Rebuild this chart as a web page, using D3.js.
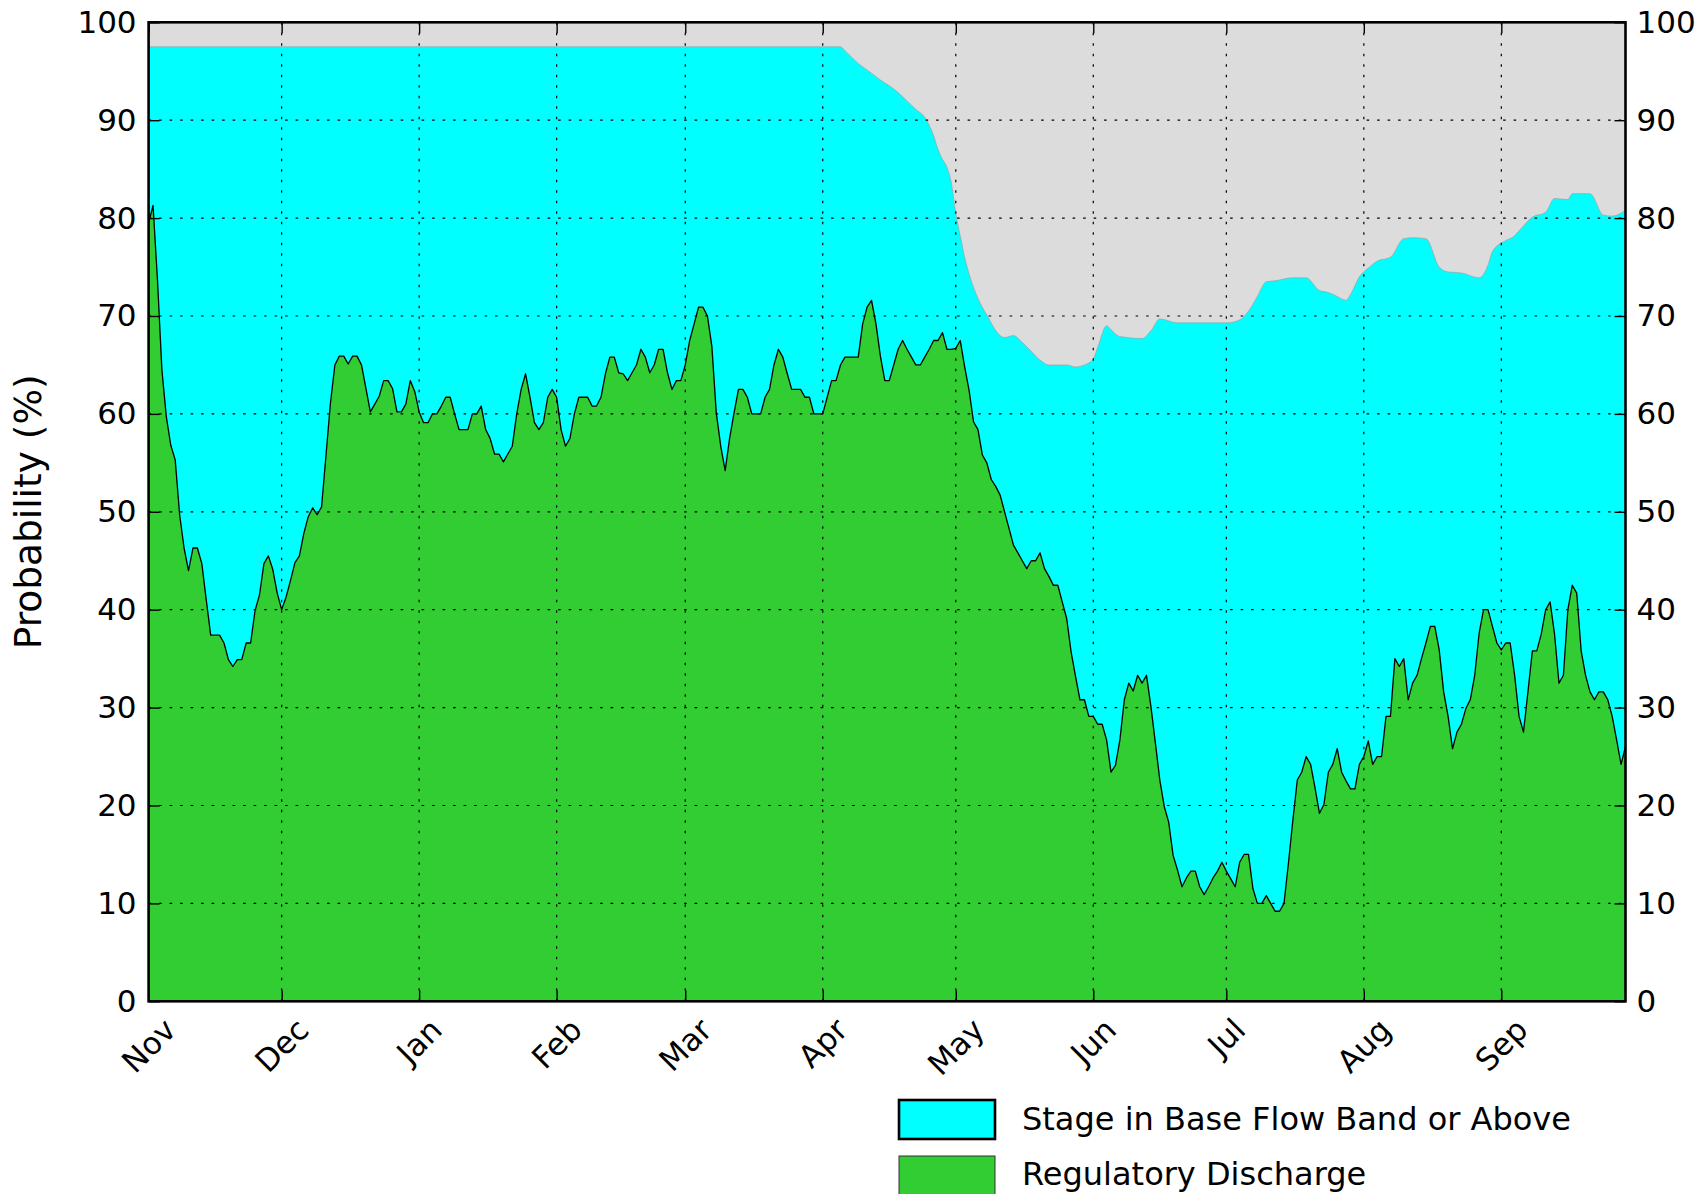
<!DOCTYPE html>
<html>
<head>
<meta charset="utf-8" />
<style>
  body { margin: 0; background: #ffffff; }
  svg { display: block; font-family: "DejaVu Sans", sans-serif; }
  .grid line { stroke: #000; stroke-width: 1.2; stroke-dasharray: 2.6,7.9; }
  .axis path { display: none; }
  .axis line { stroke: #000; stroke-width: 1.4; }
  .axis text { font-size: 31px; fill: #000; font-family: "DejaVu Sans", sans-serif; }
  .legend text { font-size: 32px; fill: #000; }
</style>
</head>
<body>
<div id="chart"></div>
<script src="https://d3js.org/d3.v7.min.js"></script>
<script>
// daily values, first day 2015-11-01
var dischargeStart = "2015-11-01";
var dischargeValues = [
  79.5, 81.3, 73.7, 64.5, 59.7, 56.8, 55.3, 49.7, 46.3, 44.0,
  46.3, 46.3, 44.7, 41.0, 37.4, 37.4, 37.4, 36.6, 34.9, 34.2,
  34.9, 34.9, 36.6, 36.6, 39.9, 41.5, 44.7, 45.5, 44.1, 41.7,
  40.0, 41.3, 43.0, 44.8, 45.5, 47.8, 49.5, 50.4, 49.7, 50.5,
  55.8, 61.1, 65.0, 65.9, 65.9, 65.1, 65.9, 65.9, 65.0, 62.6,
  60.2, 61.0, 61.8, 63.4, 63.4, 62.6, 60.2, 60.2, 61.0, 63.4,
  62.3, 60.2, 59.1, 59.1, 60.0, 60.0, 60.8, 61.7, 61.7, 60.0,
  58.4, 58.4, 58.4, 60.0, 60.0, 60.8, 58.4, 57.5, 55.9, 55.9,
  55.1, 55.9, 56.7, 60.0, 62.5, 64.1, 61.7, 59.1, 58.4, 59.1,
  61.7, 62.5, 61.7, 58.4, 56.7, 57.5, 60.0, 61.7, 61.7, 61.7,
  60.8, 60.8, 61.7, 64.1, 65.8, 65.8, 64.2, 64.1, 63.4, 64.2,
  65.0, 66.6, 65.8, 64.2, 65.0, 66.6, 66.6, 64.2, 62.5, 63.4,
  63.4, 65.0, 67.5, 69.2, 70.9, 70.9, 70.0, 66.9, 60.1, 56.7,
  54.2, 57.5, 60.1, 62.5, 62.5, 61.7, 60.0, 60.0, 60.0, 61.7,
  62.5, 65.0, 66.6, 65.8, 64.1, 62.5, 62.5, 62.5, 61.7, 61.7,
  60.0, 60.0, 60.0, 61.7, 63.4, 63.4, 65.0, 65.8, 65.8, 65.8,
  65.8, 69.2, 70.9, 71.6, 69.2, 65.9, 63.4, 63.4, 65.0, 66.6,
  67.5, 66.6, 65.8, 65.0, 65.0, 65.8, 66.6, 67.5, 67.5, 68.3,
  66.6, 66.6, 66.7, 67.5, 64.8, 62.4, 59.2, 58.4, 55.8, 55.0,
  53.3, 52.6, 51.7, 50.0, 48.3, 46.6, 45.8, 45.0, 44.2, 45.0,
  45.0, 45.8, 44.2, 43.4, 42.5, 42.5, 40.8, 39.1, 35.7, 33.2,
  30.8, 30.8, 29.1, 29.1, 28.3, 28.3, 26.7, 23.4, 24.1, 26.7,
  30.8, 32.5, 31.7, 33.3, 32.5, 33.3, 30.1, 26.4, 22.6, 19.9,
  18.3, 14.9, 13.4, 11.7, 12.6, 13.3, 13.3, 11.7, 10.9, 11.7,
  12.6, 13.3, 14.2, 13.3, 12.5, 11.7, 14.2, 15.0, 15.0, 11.5,
  10.0, 10.0, 10.8, 10.0, 9.2, 9.2, 10.0, 14.1, 18.5, 22.6,
  23.4, 25.0, 24.2, 21.8, 19.2, 20.1, 23.4, 24.2, 25.8, 23.4,
  22.5, 21.7, 21.7, 24.2, 25.0, 26.6, 24.2, 25.0, 25.0, 29.1,
  29.1, 35.0, 34.2, 35.0, 30.8, 32.5, 33.3, 35.0, 36.6, 38.3,
  38.3, 35.9, 31.6, 29.1, 25.8, 27.5, 28.3, 29.9, 30.8, 33.3,
  37.6, 40.0, 40.0, 38.3, 36.6, 35.9, 36.6, 36.6, 33.3, 29.1,
  27.5, 31.6, 35.8, 35.8, 37.5, 40.0, 40.8, 37.5, 32.5, 33.3,
  40.0, 42.5, 41.7, 35.8, 33.3, 31.6, 30.8, 31.6, 31.6, 30.8,
  29.1, 26.7, 24.2, 26.0
];

var stageDates = [
  "2015-11-01", "2016-04-05", "2016-04-06", "2016-04-09", "2016-04-12",
  "2016-04-14", "2016-04-17", "2016-04-19", "2016-04-22", "2016-04-24",
  "2016-04-26", "2016-04-27", "2016-04-28", "2016-04-29", "2016-04-30",
  "2016-05-01", "2016-05-02", "2016-05-03", "2016-05-04", "2016-05-06",
  "2016-05-08", "2016-05-11", "2016-05-12", "2016-05-14", "2016-05-16",
  "2016-05-18", "2016-05-20", "2016-05-22", "2016-05-26", "2016-05-28",
  "2016-05-30", "2016-06-01", "2016-06-02", "2016-06-04", "2016-06-05",
  "2016-06-07", "2016-06-12", "2016-06-14", "2016-06-16", "2016-06-20",
  "2016-07-01", "2016-07-04", "2016-07-06", "2016-07-08", "2016-07-10",
  "2016-07-12", "2016-07-16", "2016-07-19", "2016-07-22", "2016-07-24",
  "2016-07-26", "2016-07-28", "2016-07-29", "2016-07-31", "2016-08-02",
  "2016-08-04", "2016-08-07", "2016-08-10", "2016-08-12", "2016-08-15",
  "2016-08-18", "2016-08-20", "2016-08-23", "2016-08-27", "2016-08-29",
  "2016-08-30", "2016-09-02", "2016-09-04", "2016-09-05", "2016-09-08",
  "2016-09-11", "2016-09-13", "2016-09-16", "2016-09-17", "2016-09-21",
  "2016-09-24", "2016-09-26", "2016-09-29"
];
var stageValues = [
  97.5, 97.5, 97.1, 95.8, 94.8,
  94.1, 93.2, 92.4, 91.1, 90.3,
  88.4, 87.0, 86.0, 85.2, 83.6,
  80.5, 78.2, 76.0, 74.3, 71.8,
  70.1, 68.0, 67.8, 68.0, 67.3,
  66.4, 65.5, 65.0, 65.0, 64.8,
  65.0, 65.6, 66.8, 69.0, 68.6,
  67.9, 67.7, 68.5, 69.7, 69.3,
  69.3, 69.6, 70.5, 72.0, 73.5,
  73.6, 73.9, 73.9, 72.6, 72.4,
  72.0, 71.6, 72.2, 74.0, 74.9,
  75.6, 76.0, 77.9, 78.0, 77.9,
  75.0, 74.5, 74.4, 73.9, 75.2,
  76.6, 77.7, 78.2, 78.7, 80.1,
  80.6, 82.0, 81.9, 82.5, 82.5,
  80.3, 80.2, 80.8
];

var monthTicks = ["2015-11-01", "2015-12-01", "2016-01-01", "2016-02-01", "2016-03-01", "2016-04-01",
                  "2016-05-01", "2016-06-01", "2016-07-01", "2016-08-01", "2016-09-01"];
var monthLabels = ["Nov", "Dec", "Jan", "Feb", "Mar", "Apr", "May", "Jun", "Jul", "Aug", "Sep"];
var yTicks = [0, 10, 20, 30, 40, 50, 60, 70, 80, 90, 100];
var xEnd = "2016-09-29";
var seriesNames = ["Stage in Base Flow Band or Above", "Regulatory Discharge"];

var width = 1707,
    height = 1194,
    plotL = 148.6, plotR = 1625.5, plotT = 22.3, plotB = 1001.3;

var parse = d3.timeParse("%Y-%m-%d");

var discharge = dischargeValues.map(function(v, i) {
  return { date: d3.timeDay.offset(parse(dischargeStart), i), value: v };
});
var stage = stageDates.map(function(d, i) {
  return { date: parse(d), value: stageValues[i] };
});

var x = d3.scaleTime()
  .domain([parse(dischargeStart), parse(xEnd)])
  .range([plotL, plotR]);
var y = d3.scaleLinear()
  .domain([0, 100])
  .range([plotB, plotT]);

var svg = d3.select('#chart')
  .append('svg')
  .attr('width', width)
  .attr('height', height);

svg.append('defs').append('clipPath')
  .attr('id', 'plotclip')
  .append('rect')
  .attr('x', plotL).attr('y', plotT)
  .attr('width', plotR - plotL).attr('height', plotB - plotT);

// plot background
svg.append('rect')
  .attr('x', plotL).attr('y', plotT)
  .attr('width', plotR - plotL).attr('height', plotB - plotT)
  .attr('fill', '#dcdcdc');

var plot = svg.append('g').attr('clip-path', 'url(#plotclip)');

// stage area (cyan)
var stageArea = d3.area()
  .x(function(d) { return x(d.date); })
  .y0(y(0))
  .y1(function(d) { return y(d.value); })
  .curve(d3.curveMonotoneX);

plot.append('path')
  .datum(stage)
  .attr('d', stageArea)
  .attr('fill', '#00ffff')
  .attr('stroke', '#9a9a9a')
  .attr('stroke-width', 0.6);

// discharge area (green)
var dischargeArea = d3.area()
  .x(function(d) { return x(d.date); })
  .y0(y(0))
  .y1(function(d) { return y(d.value); });

var dischargeLine = d3.line()
  .x(function(d) { return x(d.date); })
  .y(function(d) { return y(d.value); });

plot.append('path')
  .datum(discharge)
  .attr('d', dischargeArea)
  .attr('fill', '#32cd32');

plot.append('path')
  .datum(discharge)
  .attr('d', dischargeLine)
  .attr('fill', 'none')
  .attr('stroke', '#000')
  .attr('stroke-width', 1.3)
  .attr('stroke-linejoin', 'round');

// grid
var grid = svg.append('g').attr('class', 'grid');
grid.selectAll('.gx')
  .data(monthTicks.slice(1))
  .enter().append('line')
  .attr('x1', function(d) { return x(parse(d)); })
  .attr('x2', function(d) { return x(parse(d)); })
  .attr('y1', plotB).attr('y2', plotT);
grid.selectAll('.gy')
  .data(yTicks.slice(1, -1))
  .enter().append('line')
  .attr('y1', function(d) { return y(d); })
  .attr('y2', function(d) { return y(d); })
  .attr('x1', plotL).attr('x2', plotR);

// axes with inward ticks
var tickDates = monthTicks.map(parse);

svg.append('g')
  .attr('class', 'axis')
  .attr('transform', 'translate(' + plotL + ',0)')
  .call(d3.axisLeft(y).tickValues(yTicks).tickSizeInner(-11).tickSizeOuter(0).tickPadding(12));

svg.append('g')
  .attr('class', 'axis')
  .attr('transform', 'translate(' + plotR + ',0)')
  .call(d3.axisRight(y).tickValues(yTicks).tickSizeInner(-11).tickSizeOuter(0).tickPadding(11));

svg.append('g')
  .attr('class', 'axis')
  .attr('transform', 'translate(0,' + plotB + ')')
  .call(d3.axisBottom(x).tickValues(tickDates).tickFormat('').tickSizeInner(-11).tickSizeOuter(0));

svg.append('g')
  .attr('class', 'axis')
  .attr('transform', 'translate(0,' + plotT + ')')
  .call(d3.axisTop(x).tickValues(tickDates).tickFormat('').tickSizeInner(-11).tickSizeOuter(0));

// rotated month labels
var xLabels = svg.append('g').attr('class', 'axis');
xLabels.selectAll('text')
  .data(monthLabels)
  .enter().append('text')
  .attr('text-anchor', 'middle')
  .attr('dominant-baseline', 'central')
  .text(function(d) { return d; })
  .each(function(d, i) {
    var len = this.getComputedTextLength();
    var half = (len + 22) * Math.SQRT1_2 / 2;
    d3.select(this).attr('transform',
      'translate(' + x(tickDates[i]) + ',' + (plotB + 15 + half) + ') rotate(-45)');
  });

// frame
svg.append('rect')
  .attr('x', plotL).attr('y', plotT)
  .attr('width', plotR - plotL).attr('height', plotB - plotT)
  .attr('fill', 'none')
  .attr('stroke', '#000')
  .attr('stroke-width', 2.6);

// y label
svg.append('text')
  .attr('transform', 'translate(28,' + ((plotT + plotB) / 2) + ') rotate(-90)')
  .attr('text-anchor', 'middle')
  .attr('dominant-baseline', 'central')
  .style('font-size', '37.5px')
  .text('Probability (%)');

// legend
var legend = svg.append('g').attr('class', 'legend');
var legendFill = ['#00ffff', '#32cd32'];
var legendStroke = [['#000', 2.6], ['#333', 1]];
legend.selectAll('rect')
  .data(seriesNames)
  .enter().append('rect')
  .attr('x', 899)
  .attr('y', function(d, i) { return 1100 + i * 56; })
  .attr('width', 96)
  .attr('height', 39)
  .attr('fill', function(d, i) { return legendFill[i]; })
  .attr('stroke', function(d, i) { return legendStroke[i][0]; })
  .attr('stroke-width', function(d, i) { return legendStroke[i][1]; });

legend.selectAll('text')
  .data(seriesNames)
  .enter().append('text')
  .attr('x', 1022)
  .attr('y', function(d, i) { return 1119 + i * 55; })
  .attr('dominant-baseline', 'central')
  .text(function(d) { return d; });
</script>
</body>
</html>
